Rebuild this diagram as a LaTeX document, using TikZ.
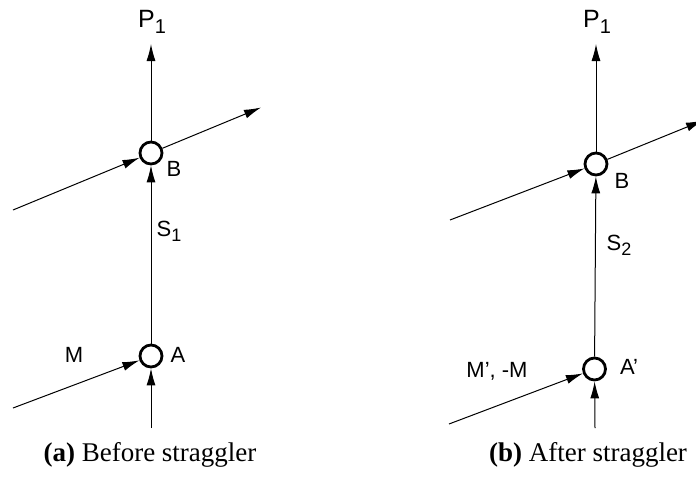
\documentclass[tikz,border=0pt]{standalone}
\usepackage{fontspec}
\setmainfont{Liberation Serif}
\setsansfont{Liberation Sans}
\usetikzlibrary{arrows.meta}
\begin{document}
\begin{tikzpicture}[x=1pt,y=-1pt,
  lbl/.style={font=\sffamily\fontsize{22}{24}\selectfont, inner sep=0pt},
  biglbl/.style={font=\sffamily\fontsize{25}{28}\selectfont, inner sep=0pt},
  captext/.style={font=\fontsize{27}{30}\selectfont, inner sep=0pt},
  junc/.style={circle, draw, line width=2.8pt, minimum size=22pt, inner sep=0pt},
  arr/.style={line width=1pt, -{Latex[length=17pt,width=9pt]}}]
\useasboundingbox (0,0) rectangle (696,480);
% ---------- left panel ----------
\node[junc] (B1) at (151,153) {};
\node[junc] (A1) at (151,356) {};
\coordinate (top1) at (151,44);
\coordinate (bot1) at (151,428);
\coordinate (inB1) at (13,210);
\coordinate (outB1) at (261,107.5);
\coordinate (inA1) at (13,408);
\node[biglbl] (P1a) at (152,22) {P\raisebox{-0.45ex}{\fontsize{20}{22}\selectfont 1}};
\draw[arr] (B1) -- (top1);
\draw[arr] (A1) -- (B1);
\draw[arr] (bot1) -- (A1);
\draw[arr] (inB1) -- (B1);
\draw[arr] (B1) -- (outB1);
\draw[arr] (inA1) -- (A1);
\node[lbl] (Blab1) at (174,169) {B};
\node[lbl] (Slab1) at (169,231) {S\raisebox{-0.45ex}{\fontsize{18}{20}\selectfont 1}};
\node[lbl] (Alab1) at (178,355) {A};
\node[lbl] (Mlab1) at (74,355) {M};
\node[captext] (cap1) at (150,455) {\textbf{(a)} Before straggler};
% ---------- right panel ----------
\node[junc] (B2) at (596,164) {};
\node[junc] (A2) at (594.5,369) {};
\coordinate (top2) at (596,44);
\coordinate (bot2) at (595,428);
\coordinate (inB2) at (450,220);
\coordinate (outB2) at (703,120.5);
\coordinate (inA2) at (449,424);
\node[biglbl] (P1b) at (597,22) {P\raisebox{-0.45ex}{\fontsize{20}{22}\selectfont 1}};
\draw[arr] (B2) -- (top2);
\draw[arr] (A2) -- (B2);
\draw[arr] (bot2) -- (A2);
\draw[arr] (inB2) -- (B2);
\draw[arr] (B2) -- (outB2);
\draw[arr] (inA2) -- (A2);
\node[lbl] (Blab2) at (622,181) {B};
\node[lbl] (Slab2) at (619,245) {S\raisebox{-0.45ex}{\fontsize{18}{20}\selectfont 2}};
\node[lbl] (Alab2) at (629,367) {A’};
\node[lbl] (Mlab2) at (497,371) {M’, -M};
\node[captext] (cap2) at (588,455) {\textbf{(b)} After straggler};
\end{tikzpicture}
\end{document}
